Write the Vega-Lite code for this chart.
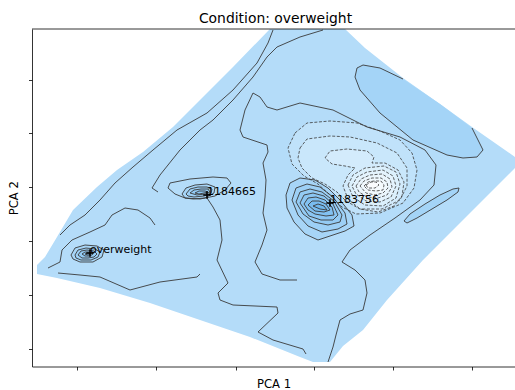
{
"$schema":"https://vega.github.io/schema/vega-lite/v6.json",
"autosize":{"type":"none"},
"padding":{"left":32,"top":29,"right":0,"bottom":23.5},
"width":483,"height":337.5,
"title":{"text":"Condition: overweight","font":"DejaVu Sans","fontSize":13.9,"fontWeight":"normal","color":"black","anchor":"middle","baseline":"alphabetic","frame":"group","offset":7.3,"dx":2,"dy":16},
"config":{"view":{"stroke":null},"axis":{"domainColor":"black","domainWidth":0.8,"tickColor":"black","tickWidth":0.8,"tickSize":3.5,"labels":false,"grid":false,"titleFont":"DejaVu Sans","titleFontSize":11.6,"titleFontWeight":"normal","titleColor":"black"}},
"datasets":{
"polys":[
{"g":"a_hull","c":"#b4dcf9","o":0,"i":0,"x":3.4,"y":21.2},
{"g":"a_hull","c":"#b4dcf9","o":0,"i":1,"x":10.9,"y":21.2},
{"g":"a_hull","c":"#b4dcf9","o":0,"i":2,"x":12.9,"y":19.3},
{"g":"a_hull","c":"#b4dcf9","o":0,"i":3,"x":16.7,"y":16.3},
{"g":"a_hull","c":"#b4dcf9","o":0,"i":4,"x":20.4,"y":13.7},
{"g":"a_hull","c":"#b4dcf9","o":0,"i":5,"x":23.6,"y":11.4},
{"g":"a_hull","c":"#b4dcf9","o":0,"i":6,"x":27.9,"y":8.4},
{"g":"a_hull","c":"#b4dcf9","o":0,"i":7,"x":27.9,"y":7.3},
{"g":"a_hull","c":"#b4dcf9","o":0,"i":8,"x":23.4,"y":2.8},
{"g":"a_hull","c":"#b4dcf9","o":0,"i":9,"x":18.7,"y":-1.9},
{"g":"a_hull","c":"#b4dcf9","o":0,"i":10,"x":15.1,"y":-5.9},
{"g":"a_hull","c":"#b4dcf9","o":0,"i":11,"x":12.7,"y":-8.9},
{"g":"a_hull","c":"#b4dcf9","o":0,"i":12,"x":10.7,"y":-10.5},
{"g":"a_hull","c":"#b4dcf9","o":0,"i":13,"x":9.4,"y":-12.1},
{"g":"a_hull","c":"#b4dcf9","o":0,"i":14,"x":7.7,"y":-12.1},
{"g":"a_hull","c":"#b4dcf9","o":0,"i":15,"x":6.4,"y":-11.6},
{"g":"a_hull","c":"#b4dcf9","o":0,"i":16,"x":1.4,"y":-9.6},
{"g":"a_hull","c":"#b4dcf9","o":0,"i":17,"x":-3.6,"y":-7.9},
{"g":"a_hull","c":"#b4dcf9","o":0,"i":18,"x":-8.6,"y":-6.2},
{"g":"a_hull","c":"#b4dcf9","o":0,"i":19,"x":-13.6,"y":-4.7},
{"g":"a_hull","c":"#b4dcf9","o":0,"i":20,"x":-17.9,"y":-3.7},
{"g":"a_hull","c":"#b4dcf9","o":0,"i":21,"x":-19.9,"y":-3.3},
{"g":"a_hull","c":"#b4dcf9","o":0,"i":22,"x":-19.9,"y":-2.4},
{"g":"a_hull","c":"#b4dcf9","o":0,"i":23,"x":-19.1,"y":-1.6},
{"g":"a_hull","c":"#b4dcf9","o":0,"i":24,"x":-17.9,"y":0.4},
{"g":"a_hull","c":"#b4dcf9","o":0,"i":25,"x":-16.3,"y":3.1},
{"g":"a_hull","c":"#b4dcf9","o":0,"i":26,"x":-13.9,"y":5.4},
{"g":"a_hull","c":"#b4dcf9","o":0,"i":27,"x":-11.9,"y":7.1},
{"g":"a_hull","c":"#b4dcf9","o":0,"i":28,"x":-9.3,"y":8.9},
{"g":"a_hull","c":"#b4dcf9","o":0,"i":29,"x":-6.3,"y":11.4},
{"g":"a_hull","c":"#b4dcf9","o":0,"i":30,"x":-3.6,"y":14.1},
{"g":"a_hull","c":"#b4dcf9","o":0,"i":31,"x":-0.3,"y":17.4},
{"g":"a_hull","c":"#b4dcf9","o":0,"i":32,"x":3.2,"y":21.0},
{"g":"b_E","c":"#a4d4f7","o":0,"i":0,"x":16.7,"y":16.2},
{"g":"b_E","c":"#a4d4f7","o":0,"i":1,"x":14.4,"y":17.3},
{"g":"b_E","c":"#a4d4f7","o":0,"i":2,"x":12.7,"y":17.6},
{"g":"b_E","c":"#a4d4f7","o":0,"i":3,"x":12.1,"y":17.3},
{"g":"b_E","c":"#a4d4f7","o":0,"i":4,"x":11.9,"y":16.4},
{"g":"b_E","c":"#a4d4f7","o":0,"i":5,"x":12.4,"y":15.1},
{"g":"b_E","c":"#a4d4f7","o":0,"i":6,"x":14.4,"y":12.8},
{"g":"b_E","c":"#a4d4f7","o":0,"i":7,"x":17.7,"y":10.1},
{"g":"b_E","c":"#a4d4f7","o":0,"i":8,"x":21.1,"y":8.6},
{"g":"b_E","c":"#a4d4f7","o":0,"i":9,"x":22.7,"y":8.3},
{"g":"b_E","c":"#a4d4f7","o":0,"i":10,"x":24.1,"y":8.4},
{"g":"b_E","c":"#a4d4f7","o":0,"i":11,"x":24.7,"y":9.1},
{"g":"b_E","c":"#a4d4f7","o":0,"i":12,"x":23.6,"y":11.3},
{"g":"b_E","c":"#a4d4f7","o":0,"i":13,"x":20.4,"y":13.7},
{"g":"c_S","c":"#a4d4f7","o":1,"i":0,"x":16.8,"y":2.0},
{"g":"c_S","c":"#a4d4f7","o":1,"i":1,"x":17.4,"y":2.7},
{"g":"c_S","c":"#a4d4f7","o":1,"i":2,"x":18.9,"y":3.7},
{"g":"c_S","c":"#a4d4f7","o":1,"i":3,"x":20.4,"y":4.6},
{"g":"c_S","c":"#a4d4f7","o":1,"i":4,"x":21.7,"y":5.2},
{"g":"c_S","c":"#a4d4f7","o":1,"i":5,"x":22.3,"y":5.3},
{"g":"c_S","c":"#a4d4f7","o":1,"i":6,"x":22.2,"y":4.9},
{"g":"c_S","c":"#a4d4f7","o":1,"i":7,"x":21.1,"y":4.1},
{"g":"c_S","c":"#a4d4f7","o":1,"i":8,"x":19.6,"y":3.2},
{"g":"c_S","c":"#a4d4f7","o":1,"i":9,"x":18.1,"y":2.3},
{"g":"c_S","c":"#a4d4f7","o":1,"i":10,"x":17.1,"y":1.8},
{"g":"d1","c":"#c0e2fa","o":2,"i":0,"x":5.9,"y":10.8},
{"g":"d1","c":"#c0e2fa","o":2,"i":1,"x":7.1,"y":11.8},
{"g":"d1","c":"#c0e2fa","o":2,"i":2,"x":9.4,"y":12.0},
{"g":"d1","c":"#c0e2fa","o":2,"i":3,"x":12.1,"y":11.8},
{"g":"d1","c":"#c0e2fa","o":2,"i":4,"x":14.4,"y":11.0},
{"g":"d1","c":"#c0e2fa","o":2,"i":5,"x":16.4,"y":10.1},
{"g":"d1","c":"#c0e2fa","o":2,"i":6,"x":17.6,"y":8.8},
{"g":"d1","c":"#c0e2fa","o":2,"i":7,"x":18.1,"y":7.1},
{"g":"d1","c":"#c0e2fa","o":2,"i":8,"x":17.8,"y":5.3},
{"g":"d1","c":"#c0e2fa","o":2,"i":9,"x":16.7,"y":3.8},
{"g":"d1","c":"#c0e2fa","o":2,"i":10,"x":14.4,"y":2.8},
{"g":"d1","c":"#c0e2fa","o":2,"i":11,"x":12.0,"y":2.7},
{"g":"d1","c":"#c0e2fa","o":2,"i":12,"x":10.6,"y":3.4},
{"g":"d1","c":"#c0e2fa","o":2,"i":13,"x":9.5,"y":4.5},
{"g":"d1","c":"#c0e2fa","o":2,"i":14,"x":8.2,"y":5.7},
{"g":"d1","c":"#c0e2fa","o":2,"i":15,"x":6.8,"y":6.5},
{"g":"d1","c":"#c0e2fa","o":2,"i":16,"x":5.6,"y":7.7},
{"g":"d1","c":"#c0e2fa","o":2,"i":17,"x":5.2,"y":9.3},
{"g":"d2","c":"#c9e7fb","o":2,"i":0,"x":6.4,"y":9.3},
{"g":"d2","c":"#c9e7fb","o":2,"i":1,"x":7.1,"y":10.2},
{"g":"d2","c":"#c9e7fb","o":2,"i":2,"x":9.4,"y":10.5},
{"g":"d2","c":"#c9e7fb","o":2,"i":3,"x":11.4,"y":10.4},
{"g":"d2","c":"#c9e7fb","o":2,"i":4,"x":14.1,"y":9.8},
{"g":"d2","c":"#c9e7fb","o":2,"i":5,"x":16.1,"y":8.8},
{"g":"d2","c":"#c9e7fb","o":2,"i":6,"x":17.1,"y":7.3},
{"g":"d2","c":"#c9e7fb","o":2,"i":7,"x":17.1,"y":5.5},
{"g":"d2","c":"#c9e7fb","o":2,"i":8,"x":16.4,"y":4.1},
{"g":"d2","c":"#c9e7fb","o":2,"i":9,"x":14.6,"y":3.2},
{"g":"d2","c":"#c9e7fb","o":2,"i":10,"x":12.4,"y":3.2},
{"g":"d2","c":"#c9e7fb","o":2,"i":11,"x":11.0,"y":4.0},
{"g":"d2","c":"#c9e7fb","o":2,"i":12,"x":10.1,"y":4.9},
{"g":"d2","c":"#c9e7fb","o":2,"i":13,"x":8.9,"y":5.7},
{"g":"d2","c":"#c9e7fb","o":2,"i":14,"x":7.6,"y":6.3},
{"g":"d2","c":"#c9e7fb","o":2,"i":15,"x":6.6,"y":7.3},
{"g":"d2","c":"#c9e7fb","o":2,"i":16,"x":6.2,"y":8.3},
{"g":"d3","c":"#d3ebfc","o":2,"i":0,"x":8.9,"y":8.3},
{"g":"d3","c":"#d3ebfc","o":2,"i":1,"x":9.4,"y":9.0},
{"g":"d3","c":"#d3ebfc","o":2,"i":2,"x":11.1,"y":9.2},
{"g":"d3","c":"#d3ebfc","o":2,"i":3,"x":13.1,"y":9.0},
{"g":"d3","c":"#d3ebfc","o":2,"i":4,"x":13.8,"y":8.4},
{"g":"d3","c":"#d3ebfc","o":2,"i":5,"x":13.6,"y":7.8},
{"g":"d3","c":"#d3ebfc","o":2,"i":6,"x":14.9,"y":7.8},
{"g":"d3","c":"#d3ebfc","o":2,"i":7,"x":16.2,"y":7.1},
{"g":"d3","c":"#d3ebfc","o":2,"i":8,"x":16.8,"y":5.9},
{"g":"d3","c":"#d3ebfc","o":2,"i":9,"x":16.6,"y":4.5},
{"g":"d3","c":"#d3ebfc","o":2,"i":10,"x":15.8,"y":3.5},
{"g":"d3","c":"#d3ebfc","o":2,"i":11,"x":14.2,"y":2.9},
{"g":"d3","c":"#d3ebfc","o":2,"i":12,"x":12.4,"y":3.2},
{"g":"d3","c":"#d3ebfc","o":2,"i":13,"x":11.2,"y":4.2},
{"g":"d3","c":"#d3ebfc","o":2,"i":14,"x":10.7,"y":5.5},
{"g":"d3","c":"#d3ebfc","o":2,"i":15,"x":11.2,"y":6.6},
{"g":"d3","c":"#d3ebfc","o":2,"i":16,"x":11.9,"y":7.3},
{"g":"d3","c":"#d3ebfc","o":2,"i":17,"x":10.9,"y":7.5},
{"g":"d3","c":"#d3ebfc","o":2,"i":18,"x":9.6,"y":7.7},
{"g":"d4","c":"#dcf0fc","o":2,"i":0,"x":11.2,"y":5.6},
{"g":"d4","c":"#dcf0fc","o":2,"i":1,"x":11.7,"y":6.6},
{"g":"d4","c":"#dcf0fc","o":2,"i":2,"x":12.9,"y":7.3},
{"g":"d4","c":"#dcf0fc","o":2,"i":3,"x":14.8,"y":7.5},
{"g":"d4","c":"#dcf0fc","o":2,"i":4,"x":16.0,"y":6.9},
{"g":"d4","c":"#dcf0fc","o":2,"i":5,"x":16.4,"y":5.7},
{"g":"d4","c":"#dcf0fc","o":2,"i":6,"x":16.0,"y":4.3},
{"g":"d4","c":"#dcf0fc","o":2,"i":7,"x":14.7,"y":3.5},
{"g":"d4","c":"#dcf0fc","o":2,"i":8,"x":12.9,"y":3.6},
{"g":"d4","c":"#dcf0fc","o":2,"i":9,"x":11.7,"y":4.4},
{"g":"d5","c":"#e4f3fd","o":2,"i":0,"x":11.6,"y":5.5},
{"g":"d5","c":"#e4f3fd","o":2,"i":1,"x":12.1,"y":6.4},
{"g":"d5","c":"#e4f3fd","o":2,"i":2,"x":13.1,"y":6.9},
{"g":"d5","c":"#e4f3fd","o":2,"i":3,"x":14.7,"y":7.1},
{"g":"d5","c":"#e4f3fd","o":2,"i":4,"x":15.7,"y":6.5},
{"g":"d5","c":"#e4f3fd","o":2,"i":5,"x":16.0,"y":5.5},
{"g":"d5","c":"#e4f3fd","o":2,"i":6,"x":15.5,"y":4.4},
{"g":"d5","c":"#e4f3fd","o":2,"i":7,"x":14.4,"y":3.9},
{"g":"d5","c":"#e4f3fd","o":2,"i":8,"x":13.0,"y":4.0},
{"g":"d5","c":"#e4f3fd","o":2,"i":9,"x":12.0,"y":4.7},
{"g":"d6","c":"#ebf6fd","o":2,"i":0,"x":12.0,"y":5.5},
{"g":"d6","c":"#ebf6fd","o":2,"i":1,"x":12.5,"y":6.2},
{"g":"d6","c":"#ebf6fd","o":2,"i":2,"x":13.4,"y":6.6},
{"g":"d6","c":"#ebf6fd","o":2,"i":3,"x":14.6,"y":6.7},
{"g":"d6","c":"#ebf6fd","o":2,"i":4,"x":15.4,"y":6.2},
{"g":"d6","c":"#ebf6fd","o":2,"i":5,"x":15.6,"y":5.4},
{"g":"d6","c":"#ebf6fd","o":2,"i":6,"x":15.1,"y":4.6},
{"g":"d6","c":"#ebf6fd","o":2,"i":7,"x":14.2,"y":4.3},
{"g":"d6","c":"#ebf6fd","o":2,"i":8,"x":13.1,"y":4.4},
{"g":"d6","c":"#ebf6fd","o":2,"i":9,"x":12.3,"y":4.9},
{"g":"d7","c":"#f1f9fe","o":2,"i":0,"x":12.4,"y":5.5},
{"g":"d7","c":"#f1f9fe","o":2,"i":1,"x":12.8,"y":6.0},
{"g":"d7","c":"#f1f9fe","o":2,"i":2,"x":13.6,"y":6.3},
{"g":"d7","c":"#f1f9fe","o":2,"i":3,"x":14.5,"y":6.3},
{"g":"d7","c":"#f1f9fe","o":2,"i":4,"x":15.1,"y":5.9},
{"g":"d7","c":"#f1f9fe","o":2,"i":5,"x":15.2,"y":5.3},
{"g":"d7","c":"#f1f9fe","o":2,"i":6,"x":14.7,"y":4.8},
{"g":"d7","c":"#f1f9fe","o":2,"i":7,"x":13.9,"y":4.6},
{"g":"d7","c":"#f1f9fe","o":2,"i":8,"x":13.0,"y":4.8},
{"g":"d8","c":"#f6fbfe","o":2,"i":0,"x":12.8,"y":5.5},
{"g":"d8","c":"#f6fbfe","o":2,"i":1,"x":13.2,"y":5.9},
{"g":"d8","c":"#f6fbfe","o":2,"i":2,"x":13.8,"y":6.0},
{"g":"d8","c":"#f6fbfe","o":2,"i":3,"x":14.5,"y":6.0},
{"g":"d8","c":"#f6fbfe","o":2,"i":4,"x":14.8,"y":5.6},
{"g":"d8","c":"#f6fbfe","o":2,"i":5,"x":14.7,"y":5.1},
{"g":"d8","c":"#f6fbfe","o":2,"i":6,"x":14.0,"y":5.0},
{"g":"d8","c":"#f6fbfe","o":2,"i":7,"x":13.2,"y":5.1},
{"g":"d9","c":"#fbfdff","o":2,"i":0,"x":13.0,"y":5.6},
{"g":"d9","c":"#fbfdff","o":2,"i":1,"x":13.5,"y":5.9},
{"g":"d9","c":"#fbfdff","o":2,"i":2,"x":14.0,"y":5.9},
{"g":"d9","c":"#fbfdff","o":2,"i":3,"x":14.3,"y":5.6},
{"g":"d9","c":"#fbfdff","o":2,"i":4,"x":13.9,"y":5.3},
{"g":"d9","c":"#fbfdff","o":2,"i":5,"x":13.2,"y":5.3},
{"g":"e1","c":"#a7d5f7","o":1,"i":0,"x":5.0,"y":4.6},
{"g":"e1","c":"#a7d5f7","o":1,"i":1,"x":5.4,"y":5.8},
{"g":"e1","c":"#a7d5f7","o":1,"i":2,"x":6.4,"y":6.3},
{"g":"e1","c":"#a7d5f7","o":1,"i":3,"x":7.9,"y":6.1},
{"g":"e1","c":"#a7d5f7","o":1,"i":4,"x":9.2,"y":5.3},
{"g":"e1","c":"#a7d5f7","o":1,"i":5,"x":10.4,"y":4.1},
{"g":"e1","c":"#a7d5f7","o":1,"i":6,"x":11.6,"y":2.6},
{"g":"e1","c":"#a7d5f7","o":1,"i":7,"x":11.8,"y":1.5},
{"g":"e1","c":"#a7d5f7","o":1,"i":8,"x":10.9,"y":1.0},
{"g":"e1","c":"#a7d5f7","o":1,"i":9,"x":9.4,"y":0.5},
{"g":"e1","c":"#a7d5f7","o":1,"i":10,"x":8.2,"y":0.1},
{"g":"e1","c":"#a7d5f7","o":1,"i":11,"x":6.9,"y":0.7},
{"g":"e1","c":"#a7d5f7","o":1,"i":12,"x":5.8,"y":1.9},
{"g":"e1","c":"#a7d5f7","o":1,"i":13,"x":5.1,"y":3.3},
{"g":"e2","c":"#9dd0f6","o":1,"i":0,"x":5.6,"y":4.1},
{"g":"e2","c":"#9dd0f6","o":1,"i":1,"x":6.0,"y":5.3},
{"g":"e2","c":"#9dd0f6","o":1,"i":2,"x":7.1,"y":5.7},
{"g":"e2","c":"#9dd0f6","o":1,"i":3,"x":8.4,"y":5.4},
{"g":"e2","c":"#9dd0f6","o":1,"i":4,"x":9.7,"y":4.4},
{"g":"e2","c":"#9dd0f6","o":1,"i":5,"x":10.9,"y":2.8},
{"g":"e2","c":"#9dd0f6","o":1,"i":6,"x":11.1,"y":1.7},
{"g":"e2","c":"#9dd0f6","o":1,"i":7,"x":10.2,"y":1.2},
{"g":"e2","c":"#9dd0f6","o":1,"i":8,"x":8.6,"y":0.9},
{"g":"e2","c":"#9dd0f6","o":1,"i":9,"x":7.2,"y":1.5},
{"g":"e2","c":"#9dd0f6","o":1,"i":10,"x":6.2,"y":2.6},
{"g":"e3","c":"#94cbf4","o":1,"i":0,"x":6.0,"y":3.9},
{"g":"e3","c":"#94cbf4","o":1,"i":1,"x":6.4,"y":4.9},
{"g":"e3","c":"#94cbf4","o":1,"i":2,"x":7.4,"y":5.2},
{"g":"e3","c":"#94cbf4","o":1,"i":3,"x":8.6,"y":4.9},
{"g":"e3","c":"#94cbf4","o":1,"i":4,"x":9.8,"y":4.0},
{"g":"e3","c":"#94cbf4","o":1,"i":5,"x":10.6,"y":2.6},
{"g":"e3","c":"#94cbf4","o":1,"i":6,"x":10.4,"y":1.9},
{"g":"e3","c":"#94cbf4","o":1,"i":7,"x":9.2,"y":1.6},
{"g":"e3","c":"#94cbf4","o":1,"i":8,"x":7.8,"y":1.9},
{"g":"e3","c":"#94cbf4","o":1,"i":9,"x":6.7,"y":2.7},
{"g":"e4","c":"#8bc6f3","o":1,"i":0,"x":6.4,"y":3.8},
{"g":"e4","c":"#8bc6f3","o":1,"i":1,"x":6.8,"y":4.6},
{"g":"e4","c":"#8bc6f3","o":1,"i":2,"x":7.7,"y":4.8},
{"g":"e4","c":"#8bc6f3","o":1,"i":3,"x":8.8,"y":4.5},
{"g":"e4","c":"#8bc6f3","o":1,"i":4,"x":9.7,"y":3.7},
{"g":"e4","c":"#8bc6f3","o":1,"i":5,"x":10.2,"y":2.6},
{"g":"e4","c":"#8bc6f3","o":1,"i":6,"x":9.7,"y":2.1},
{"g":"e4","c":"#8bc6f3","o":1,"i":7,"x":8.5,"y":2.1},
{"g":"e4","c":"#8bc6f3","o":1,"i":8,"x":7.3,"y":2.5},
{"g":"e5","c":"#82c1f1","o":1,"i":0,"x":6.8,"y":3.7},
{"g":"e5","c":"#82c1f1","o":1,"i":1,"x":7.2,"y":4.3},
{"g":"e5","c":"#82c1f1","o":1,"i":2,"x":8.0,"y":4.4},
{"g":"e5","c":"#82c1f1","o":1,"i":3,"x":8.9,"y":4.1},
{"g":"e5","c":"#82c1f1","o":1,"i":4,"x":9.6,"y":3.4},
{"g":"e5","c":"#82c1f1","o":1,"i":5,"x":9.8,"y":2.6},
{"g":"e5","c":"#82c1f1","o":1,"i":6,"x":9.0,"y":2.5},
{"g":"e5","c":"#82c1f1","o":1,"i":7,"x":7.9,"y":2.7},
{"g":"e5","c":"#82c1f1","o":1,"i":8,"x":7.2,"y":3.1},
{"g":"e6","c":"#79bcef","o":1,"i":0,"x":7.2,"y":3.6},
{"g":"e6","c":"#79bcef","o":1,"i":1,"x":7.6,"y":4.0},
{"g":"e6","c":"#79bcef","o":1,"i":2,"x":8.3,"y":4.0},
{"g":"e6","c":"#79bcef","o":1,"i":3,"x":9.0,"y":3.7},
{"g":"e6","c":"#79bcef","o":1,"i":4,"x":9.4,"y":3.1},
{"g":"e6","c":"#79bcef","o":1,"i":5,"x":8.8,"y":2.9},
{"g":"e6","c":"#79bcef","o":1,"i":6,"x":7.9,"y":3.0},
{"g":"e7","c":"#70b7ed","o":1,"i":0,"x":7.7,"y":3.5},
{"g":"e7","c":"#70b7ed","o":1,"i":1,"x":8.2,"y":3.7},
{"g":"e7","c":"#70b7ed","o":1,"i":2,"x":8.8,"y":3.5},
{"g":"e7","c":"#70b7ed","o":1,"i":3,"x":9.1,"y":3.1},
{"g":"e7","c":"#70b7ed","o":1,"i":4,"x":8.4,"y":3.2},
{"g":"f1","c":"#a7d5f7","o":1,"i":0,"x":-5.4,"y":4.7},
{"g":"f1","c":"#a7d5f7","o":1,"i":1,"x":-5.0,"y":5.3},
{"g":"f1","c":"#a7d5f7","o":1,"i":2,"x":-4.1,"y":5.6},
{"g":"f1","c":"#a7d5f7","o":1,"i":3,"x":-2.9,"y":5.7},
{"g":"f1","c":"#a7d5f7","o":1,"i":4,"x":-2.1,"y":5.4},
{"g":"f1","c":"#a7d5f7","o":1,"i":5,"x":-2.2,"y":4.8},
{"g":"f1","c":"#a7d5f7","o":1,"i":6,"x":-3.1,"y":4.3},
{"g":"f1","c":"#a7d5f7","o":1,"i":7,"x":-4.3,"y":4.2},
{"g":"f1","c":"#a7d5f7","o":1,"i":8,"x":-5.1,"y":4.3},
{"g":"f2","c":"#9dd0f6","o":1,"i":0,"x":-5.0,"y":4.7},
{"g":"f2","c":"#9dd0f6","o":1,"i":1,"x":-4.6,"y":5.2},
{"g":"f2","c":"#9dd0f6","o":1,"i":2,"x":-3.8,"y":5.4},
{"g":"f2","c":"#9dd0f6","o":1,"i":3,"x":-2.9,"y":5.4},
{"g":"f2","c":"#9dd0f6","o":1,"i":4,"x":-2.4,"y":5.2},
{"g":"f2","c":"#9dd0f6","o":1,"i":5,"x":-2.5,"y":4.8},
{"g":"f2","c":"#9dd0f6","o":1,"i":6,"x":-3.2,"y":4.5},
{"g":"f2","c":"#9dd0f6","o":1,"i":7,"x":-4.2,"y":4.4},
{"g":"f2","c":"#9dd0f6","o":1,"i":8,"x":-4.8,"y":4.5},
{"g":"f3","c":"#94cbf4","o":1,"i":0,"x":-4.6,"y":4.8},
{"g":"f3","c":"#94cbf4","o":1,"i":1,"x":-4.2,"y":5.1},
{"g":"f3","c":"#94cbf4","o":1,"i":2,"x":-3.5,"y":5.2},
{"g":"f3","c":"#94cbf4","o":1,"i":3,"x":-2.8,"y":5.2},
{"g":"f3","c":"#94cbf4","o":1,"i":4,"x":-2.6,"y":4.9},
{"g":"f3","c":"#94cbf4","o":1,"i":5,"x":-3.1,"y":4.7},
{"g":"f3","c":"#94cbf4","o":1,"i":6,"x":-3.9,"y":4.6},
{"g":"f4","c":"#8bc6f3","o":1,"i":0,"x":-4.1,"y":4.8},
{"g":"f4","c":"#8bc6f3","o":1,"i":1,"x":-3.7,"y":5.0},
{"g":"f4","c":"#8bc6f3","o":1,"i":2,"x":-3.1,"y":5.0},
{"g":"f4","c":"#8bc6f3","o":1,"i":3,"x":-2.8,"y":4.9},
{"g":"f4","c":"#8bc6f3","o":1,"i":4,"x":-3.2,"y":4.8},
{"g":"f4","c":"#8bc6f3","o":1,"i":5,"x":-3.7,"y":4.7},
{"g":"g1","c":"#a7d5f7","o":1,"i":0,"x":-16.5,"y":-1.4},
{"g":"g1","c":"#a7d5f7","o":1,"i":1,"x":-16.1,"y":-0.7},
{"g":"g1","c":"#a7d5f7","o":1,"i":2,"x":-15.1,"y":-0.4},
{"g":"g1","c":"#a7d5f7","o":1,"i":3,"x":-13.9,"y":-0.5},
{"g":"g1","c":"#a7d5f7","o":1,"i":4,"x":-13.2,"y":-0.9},
{"g":"g1","c":"#a7d5f7","o":1,"i":5,"x":-13.4,"y":-1.6},
{"g":"g1","c":"#a7d5f7","o":1,"i":6,"x":-14.3,"y":-2.1},
{"g":"g1","c":"#a7d5f7","o":1,"i":7,"x":-15.6,"y":-2.1},
{"g":"g1","c":"#a7d5f7","o":1,"i":8,"x":-16.3,"y":-1.8},
{"g":"g2","c":"#9dd0f6","o":1,"i":0,"x":-16.1,"y":-1.4},
{"g":"g2","c":"#9dd0f6","o":1,"i":1,"x":-15.8,"y":-0.9},
{"g":"g2","c":"#9dd0f6","o":1,"i":2,"x":-15.0,"y":-0.7},
{"g":"g2","c":"#9dd0f6","o":1,"i":3,"x":-14.1,"y":-0.8},
{"g":"g2","c":"#9dd0f6","o":1,"i":4,"x":-13.6,"y":-1.1},
{"g":"g2","c":"#9dd0f6","o":1,"i":5,"x":-13.8,"y":-1.6},
{"g":"g2","c":"#9dd0f6","o":1,"i":6,"x":-14.5,"y":-1.9},
{"g":"g2","c":"#9dd0f6","o":1,"i":7,"x":-15.5,"y":-1.9},
{"g":"g2","c":"#9dd0f6","o":1,"i":8,"x":-16.0,"y":-1.7},
{"g":"g3","c":"#94cbf4","o":1,"i":0,"x":-15.8,"y":-1.4},
{"g":"g3","c":"#94cbf4","o":1,"i":1,"x":-15.5,"y":-1.0},
{"g":"g3","c":"#94cbf4","o":1,"i":2,"x":-14.9,"y":-0.9},
{"g":"g3","c":"#94cbf4","o":1,"i":3,"x":-14.2,"y":-1.0},
{"g":"g3","c":"#94cbf4","o":1,"i":4,"x":-13.9,"y":-1.3},
{"g":"g3","c":"#94cbf4","o":1,"i":5,"x":-14.2,"y":-1.6},
{"g":"g3","c":"#94cbf4","o":1,"i":6,"x":-14.8,"y":-1.7},
{"g":"g3","c":"#94cbf4","o":1,"i":7,"x":-15.4,"y":-1.7},
{"g":"g4","c":"#8bc6f3","o":1,"i":0,"x":-15.4,"y":-1.3},
{"g":"g4","c":"#8bc6f3","o":1,"i":1,"x":-15.1,"y":-1.1},
{"g":"g4","c":"#8bc6f3","o":1,"i":2,"x":-14.6,"y":-1.1},
{"g":"g4","c":"#8bc6f3","o":1,"i":3,"x":-14.3,"y":-1.3},
{"g":"g4","c":"#8bc6f3","o":1,"i":4,"x":-14.6,"y":-1.5},
{"g":"g4","c":"#8bc6f3","o":1,"i":5,"x":-15.1,"y":-1.5},
{"g":"g5","c":"#82c1f1","o":1,"i":0,"x":-15.1,"y":-1.3},
{"g":"g5","c":"#82c1f1","o":1,"i":1,"x":-14.8,"y":-1.2},
{"g":"g5","c":"#82c1f1","o":1,"i":2,"x":-14.5,"y":-1.3},
{"g":"g5","c":"#82c1f1","o":1,"i":3,"x":-14.8,"y":-1.4}
],
"lines":[
{"g":"E","i":0,"x":16.7,"y":16.2},
{"g":"E","i":1,"x":14.4,"y":17.3},
{"g":"E","i":2,"x":12.7,"y":17.6},
{"g":"E","i":3,"x":12.1,"y":17.3},
{"g":"E","i":4,"x":11.9,"y":16.4},
{"g":"E","i":5,"x":12.4,"y":15.1},
{"g":"E","i":6,"x":14.4,"y":12.8},
{"g":"E","i":7,"x":17.7,"y":10.1},
{"g":"E","i":8,"x":21.1,"y":8.6},
{"g":"E","i":9,"x":22.7,"y":8.3},
{"g":"E","i":10,"x":24.1,"y":8.4},
{"g":"E","i":11,"x":24.7,"y":9.1},
{"g":"E","i":12,"x":23.6,"y":11.3},
{"g":"L1","i":0,"x":3.7,"y":21.1},
{"g":"L1","i":1,"x":3.2,"y":19.8},
{"g":"L1","i":2,"x":2.1,"y":17.8},
{"g":"L1","i":3,"x":-0.3,"y":15.1},
{"g":"L1","i":4,"x":-2.9,"y":12.8},
{"g":"L1","i":5,"x":-5.9,"y":11.1},
{"g":"L1","i":6,"x":-8.3,"y":9.1},
{"g":"L1","i":7,"x":-10.3,"y":7.4},
{"g":"L1","i":8,"x":-12.1,"y":5.8},
{"g":"L1","i":9,"x":-13.6,"y":4.1},
{"g":"L1","i":10,"x":-15.1,"y":2.6},
{"g":"L1","i":11,"x":-16.6,"y":1.6},
{"g":"L1","i":12,"x":-17.6,"y":0.6},
{"g":"L2","i":0,"x":8.7,"y":21.1},
{"g":"L2","i":1,"x":6.4,"y":20.4},
{"g":"L2","i":2,"x":4.1,"y":19.4},
{"g":"L2","i":3,"x":3.1,"y":18.4},
{"g":"L2","i":4,"x":1.7,"y":16.4},
{"g":"L2","i":5,"x":-0.3,"y":14.1},
{"g":"L2","i":6,"x":-2.3,"y":12.1},
{"g":"L2","i":7,"x":-3.6,"y":11.1},
{"g":"L2","i":8,"x":-5.6,"y":9.1},
{"g":"L2","i":9,"x":-7.6,"y":6.6},
{"g":"L2","i":10,"x":-8.4,"y":5.3},
{"g":"L2","i":11,"x":-7.8,"y":4.9},
{"g":"K0","i":0,"x":-6.6,"y":5.8},
{"g":"K0","i":1,"x":-4.6,"y":6.2},
{"g":"K0","i":2,"x":-2.3,"y":6.4},
{"g":"K0","i":3,"x":-0.9,"y":6.3},
{"g":"K0","i":4,"x":-0.5,"y":5.8},
{"g":"K0","i":5,"x":-1.1,"y":5.1},
{"g":"K0","i":6,"x":-2.1,"y":4.5},
{"g":"K0","i":7,"x":-3.6,"y":4.2},
{"g":"K0","i":8,"x":-5.1,"y":4.3},
{"g":"K0","i":9,"x":-6.1,"y":4.7},
{"g":"K0","i":10,"x":-6.8,"y":5.3},
{"g":"K0","i":11,"x":-6.6,"y":5.8},
{"g":"L3","i":0,"x":6.1,"y":-3.9},
{"g":"L3","i":1,"x":4.4,"y":-3.9},
{"g":"L3","i":2,"x":2.6,"y":-3.3},
{"g":"L3","i":3,"x":1.9,"y":-2.1},
{"g":"L3","i":4,"x":2.6,"y":-0.4},
{"g":"L3","i":5,"x":3.1,"y":1.1},
{"g":"L3","i":6,"x":2.7,"y":2.8},
{"g":"L3","i":7,"x":2.9,"y":4.4},
{"g":"L3","i":8,"x":3.0,"y":6.1},
{"g":"L3","i":9,"x":2.7,"y":7.8},
{"g":"L3","i":10,"x":3.2,"y":8.9},
{"g":"L3","i":11,"x":3.1,"y":9.6},
{"g":"L3","i":12,"x":1.9,"y":10.0},
{"g":"L3","i":13,"x":0.7,"y":10.4},
{"g":"L3","i":14,"x":0.4,"y":11.1},
{"g":"L3","i":15,"x":0.9,"y":13.1},
{"g":"L3","i":16,"x":1.7,"y":14.8},
{"g":"L3","i":17,"x":2.4,"y":14.4},
{"g":"L3","i":18,"x":3.1,"y":13.4},
{"g":"L3","i":19,"x":4.1,"y":13.1},
{"g":"L3","i":20,"x":6.4,"y":13.8},
{"g":"L3","i":21,"x":9.7,"y":13.1},
{"g":"L3","i":22,"x":13.1,"y":11.4},
{"g":"L3","i":23,"x":16.4,"y":10.4},
{"g":"L3","i":24,"x":18.9,"y":9.1},
{"g":"L3","i":25,"x":20.0,"y":7.6},
{"g":"L3","i":26,"x":19.8,"y":5.6},
{"g":"L3","i":27,"x":18.4,"y":4.1},
{"g":"L3","i":28,"x":15.9,"y":2.3},
{"g":"L3","i":29,"x":13.4,"y":0.6},
{"g":"L3","i":30,"x":11.4,"y":-0.9},
{"g":"L3","i":31,"x":10.6,"y":-2.1},
{"g":"L3","i":32,"x":11.9,"y":-2.9},
{"g":"L3","i":33,"x":12.9,"y":-3.9},
{"g":"L3","i":34,"x":13.1,"y":-5.2},
{"g":"L3","i":35,"x":12.7,"y":-6.9},
{"g":"L3","i":36,"x":11.4,"y":-7.3},
{"g":"L3","i":37,"x":10.4,"y":-7.9},
{"g":"L3","i":38,"x":10.0,"y":-9.4},
{"g":"L3","i":39,"x":9.7,"y":-10.6},
{"g":"L3","i":40,"x":9.2,"y":-12.1},
{"g":"KD","i":0,"x":-2.9,"y":4.3},
{"g":"KD","i":1,"x":-2.3,"y":3.4},
{"g":"KD","i":2,"x":-1.6,"y":2.1},
{"g":"KD","i":3,"x":-1.4,"y":0.1},
{"g":"KD","i":4,"x":-1.9,"y":-1.9},
{"g":"KD","i":5,"x":-0.8,"y":-4.2},
{"g":"KD","i":6,"x":-1.8,"y":-5.2},
{"g":"KD","i":7,"x":-1.6,"y":-5.9},
{"g":"KD","i":8,"x":-0.3,"y":-6.4},
{"g":"KD","i":9,"x":4.1,"y":-6.6},
{"g":"KD","i":10,"x":4.2,"y":-7.2},
{"g":"KD","i":11,"x":2.2,"y":-9.1},
{"g":"KD","i":12,"x":3.7,"y":-9.9},
{"g":"KD","i":13,"x":6.7,"y":-10.8},
{"g":"KD","i":14,"x":7.0,"y":-11.3},
{"g":"LL1","i":0,"x":-18.8,"y":-2.7},
{"g":"LL1","i":1,"x":-17.6,"y":-2.1},
{"g":"LL1","i":2,"x":-17.4,"y":-0.9},
{"g":"LL1","i":3,"x":-16.4,"y":0.1},
{"g":"LL1","i":4,"x":-14.6,"y":0.9},
{"g":"LL1","i":5,"x":-13.1,"y":1.6},
{"g":"LL1","i":6,"x":-12.4,"y":2.6},
{"g":"LL1","i":7,"x":-11.1,"y":3.3},
{"g":"LL1","i":8,"x":-9.8,"y":3.1},
{"g":"LL1","i":9,"x":-8.6,"y":2.3},
{"g":"LL1","i":10,"x":-8.1,"y":1.6},
{"g":"LB","i":0,"x":-17.8,"y":-3.2},
{"g":"LB","i":1,"x":-15.6,"y":-3.4},
{"g":"LB","i":2,"x":-13.6,"y":-3.6},
{"g":"LB","i":3,"x":-10.6,"y":-4.9},
{"g":"LB","i":4,"x":-7.6,"y":-4.1},
{"g":"LB","i":5,"x":-3.9,"y":-3.6},
{"g":"LB","i":6,"x":-3.6,"y":-3.3}
],
"pts":[
{"label":"overweight","x":-14.6,"y":-1.2},
{"label":"1184665","x":-2.9,"y":4.6},
{"label":"1183756","x":9.4,"y":3.8}
]
},
"layer":[
{"data":{"name":"polys"},
 "mark":{"type":"line","interpolate":"linear-closed","strokeWidth":0,"clip":true},
 "encoding":{
  "x":{"field":"x","type":"quantitative","scale":{"domain":[-20.4,27.9],"nice":false,"zero":false},"axis":{"values":[-15.9,-8.0,0,7.8,15.7,23.6],"title":"PCA 1","titlePadding":7.6}},
  "y":{"field":"y","type":"quantitative","scale":{"domain":[-12.55,21.2],"nice":false,"zero":false},"axis":{"values":[-10.8,-5.4,0,5.4,10.8,16.1],"title":"PCA 2","titlePadding":9}},
  "detail":{"field":"g"},
  "order":{"field":"i","type":"quantitative"},
  "fill":{"field":"c","type":"nominal","scale":null}}},
{"data":{"name":"polys"},"transform":[{"filter":"datum.o==1"}],
 "mark":{"type":"line","interpolate":"linear-closed","stroke":"#3a3a3a","strokeWidth":0.9,"clip":true},
 "encoding":{
  "x":{"field":"x","type":"quantitative","scale":{"domain":[-20.4,27.9],"nice":false,"zero":false}},
  "y":{"field":"y","type":"quantitative","scale":{"domain":[-12.55,21.2],"nice":false,"zero":false}},
  "detail":{"field":"g"},
  "order":{"field":"i","type":"quantitative"}}},
{"data":{"name":"polys"},"transform":[{"filter":"datum.o==2"}],
 "mark":{"type":"line","interpolate":"linear-closed","stroke":"#3a3a3a","strokeWidth":0.8,"strokeDash":[3,1.6],"clip":true},
 "encoding":{
  "x":{"field":"x","type":"quantitative","scale":{"domain":[-20.4,27.9],"nice":false,"zero":false}},
  "y":{"field":"y","type":"quantitative","scale":{"domain":[-12.55,21.2],"nice":false,"zero":false}},
  "detail":{"field":"g"},
  "order":{"field":"i","type":"quantitative"}}},
{"data":{"name":"lines"},
 "mark":{"type":"line","stroke":"#3a3a3a","strokeWidth":0.9,"clip":true},
 "encoding":{
  "x":{"field":"x","type":"quantitative","scale":{"domain":[-20.4,27.9],"nice":false,"zero":false}},
  "y":{"field":"y","type":"quantitative","scale":{"domain":[-12.55,21.2],"nice":false,"zero":false}},
  "detail":{"field":"g"},
  "order":{"field":"i","type":"quantitative"}}},
{"data":{"name":"pts"},
 "mark":{"type":"point","shape":"M-1,0L1,0M0,-1L0,1","filled":false,"stroke":"black","strokeWidth":1.5,"size":56,"opacity":1},
 "encoding":{
  "x":{"field":"x","type":"quantitative","scale":{"domain":[-20.4,27.9],"nice":false,"zero":false}},
  "y":{"field":"y","type":"quantitative","scale":{"domain":[-12.55,21.2],"nice":false,"zero":false}}}},
{"data":{"name":"pts"},
 "mark":{"type":"text","align":"left","baseline":"alphabetic","font":"DejaVu Sans","fontSize":11,"color":"black"},
 "encoding":{
  "x":{"field":"x","type":"quantitative","scale":{"domain":[-20.4,27.9],"nice":false,"zero":false}},
  "y":{"field":"y","type":"quantitative","scale":{"domain":[-12.55,21.2],"nice":false,"zero":false}},
  "text":{"field":"label"}}},
{"data":{"values":[{"t":21.2}]},
 "mark":{"type":"rule","color":"black","strokeWidth":0.8},
 "encoding":{"y":{"field":"t","type":"quantitative","scale":{"domain":[-12.55,21.2],"nice":false,"zero":false}}}}
]
}
